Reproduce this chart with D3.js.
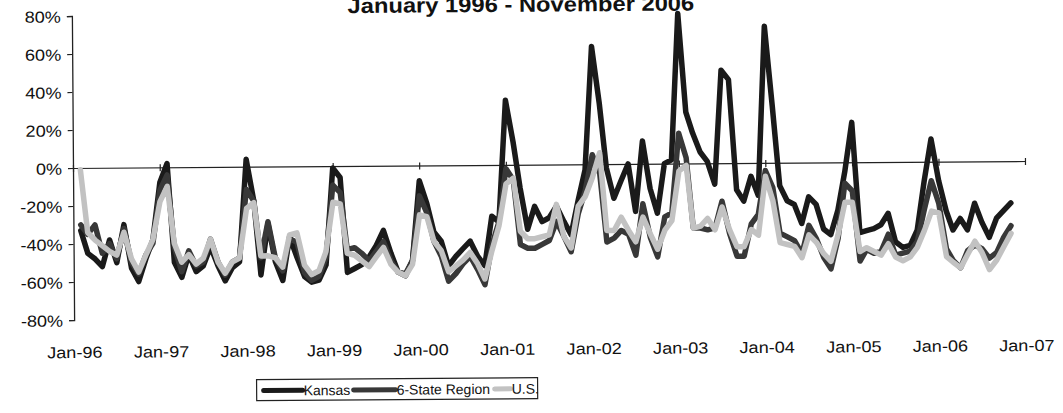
<!DOCTYPE html>
<html>
<head>
<meta charset="utf-8">
<script src="https://cdn.jsdelivr.net/npm/d3@7"></script>
<style>
  body { margin: 0; background: #fff; }
  svg { display: block; }
  text { font-family: "Liberation Sans", Arial, Helvetica, sans-serif; fill: #111; }
</style>
</head>
<body>
<svg id="chart" width="1063" height="413"></svg>
<script>
// Monthly percent change, Feb 1996 .. Nov 2006
const titleText = "January 1996 - November 2006";
const firstMonth = new Date(1996, 1, 1);

const kansas = [
  -33,-45,-48,-52,-38,-50,-30,-53,-60,-48,-38,
  -8,2,-50,-58,-46,-55,-52,-42,-52,-60,-53,-50,
  4,-18,-57,-30,-50,-60,-37,-48,-58,-61,-60,-52,
  -1,-6,-56,-54,-52,-48,-42,-34,-46,-56,-58,-50,
  -8,-20,-35,-40,-53,-48,-44,-40,-48,-53,-27,-30,
  34,12,-12,-34,-22,-30,-28,-22,-30,-37,-19,-3,
  62,32,-2,-18,-9,0,-25,12,-13,-26,0,2,
  79,27,16,6,1,-11,49,44,-14,-20,-7,-17,
  72,30,-12,-20,-22,-32,-18,-22,-35,-38,-25,-5,
  21,-37,-36,-35,-33,-27,-42,-45,-44,-36,-10,12,
  -10,-26,-36,-30,-36,-22,-32,-40,-30,-26,-22
];
const sixState = [
  -30,-35,-30,-45,-40,-48,-32,-50,-56,-46,-40,
  -12,-4,-42,-55,-44,-52,-50,-38,-50,-57,-50,-48,
  -12,-18,-48,-29,-48,-55,-38,-40,-56,-60,-58,-48,
  -10,-14,-44,-43,-46,-50,-45,-40,-50,-56,-57,-50,
  -16,-25,-40,-48,-61,-57,-52,-48,-55,-63,-42,-30,
  -2,-8,-42,-44,-44,-42,-40,-30,-38,-46,-26,-14,
  5,-5,-41,-39,-35,-37,-48,-21,-39,-49,-28,-26,
  16,3,-34,-34,-35,-34,-20,-37,-49,-49,-32,-27,
  -4,-13,-37,-39,-41,-48,-33,-40,-50,-56,-40,-11,
  -15,-52,-46,-48,-47,-38,-49,-48,-47,-42,-25,-10,
  -22,-46,-52,-56,-47,-44,-46,-51,-48,-40,-34
];
const us = [
  -1,-34,-38,-41,-44,-46,-34,-48,-55,-46,-38,
  -18,-10,-40,-50,-46,-51,-48,-38,-50,-56,-50,-48,
  -22,-19,-47,-47,-48,-53,-36,-35,-52,-57,-55,-45,
  -19,-20,-46,-47,-50,-53,-48,-43,-52,-56,-58,-52,
  -26,-27,-40,-45,-56,-53,-50,-46,-52,-60,-45,-32,
  -10,-7,-35,-39,-39,-38,-37,-21,-38,-44,-22,-17,
  -7,6,-35,-35,-28,-35,-41,-28,-37,-45,-35,-30,
  -4,-1,-34,-33,-29,-35,-23,-35,-44,-44,-35,-38,
  -7,-20,-42,-43,-44,-50,-38,-42,-48,-52,-38,-21,
  -21,-47,-45,-47,-49,-43,-50,-52,-50,-45,-36,-26,
  -27,-50,-53,-56,-49,-42,-48,-57,-52,-45,-38
];

const seriesNames = ["Kansas", "6-State Region", "U.S."];
const seriesColors = ["#1a1a1a", "#383838", "#c2c2c2"];
const yTickValues = [-80, -60, -40, -20, 0, 20, 40, 60, 80];
const xTickYears = d3.range(1996, 2008);

const svg = d3.select("#chart");
const plotLeft = 73, plotRight = 1025, plotTop = 16, plotBottom = 320;
const stretch = 1.13;

const x = d3.scaleTime()
  .domain([new Date(1996, 0, 1), new Date(2007, 0, 1)])
  .range([plotLeft, plotRight]);
const y = d3.scaleLinear().domain([-80, 80]).range([plotBottom, plotTop]);

// whole page is drawn on a very slight tilt
const g = svg.append("g").attr("transform", `rotate(-0.42, ${plotLeft}, ${y(0)})`);

// title
g.append("text")
  .attr("transform", `translate(522, 15) scale(${stretch},1)`)
  .attr("text-anchor", "middle")
  .style("font-size", "21px")
  .style("font-weight", "bold")
  .text(titleText);

// y axis
const yAxis = d3.axisLeft(y)
  .tickValues(yTickValues)
  .tickSize(5)
  .tickFormat(d => d + "%");
const yg = g.append("g").attr("transform", `translate(${plotLeft},0)`).call(yAxis);
yg.select(".domain").attr("stroke", "#222").attr("stroke-width", 1.3);
yg.selectAll(".tick line").attr("stroke", "#222").attr("stroke-width", 1.2);
yg.selectAll(".tick text")
  .attr("x", null).attr("dy", null)
  .attr("text-anchor", "end")
  .attr("transform", `translate(-11,6) scale(${stretch},1)`)
  .style("font-size", "16px")
  .style("fill", "#111");

// x axis along the zero line, labels below the plot
const xAxis = d3.axisBottom(x)
  .tickValues(xTickYears.map(yr => new Date(yr, 0, 1)))
  .tickSize(0)
  .tickFormat(d3.timeFormat("%b-%y"));
const xg = g.append("g").attr("transform", `translate(0,${y(0)})`).call(xAxis);
xg.select(".domain").attr("stroke", "#222").attr("stroke-width", 1.2);
xg.selectAll(".tick").append("line")
  .attr("y1", -3).attr("y2", 4)
  .attr("stroke", "#222").attr("stroke-width", 1.2);
xg.selectAll(".tick text")
  .attr("y", null).attr("dy", null)
  .attr("transform", `translate(0,${358 - y(0)}) scale(${stretch},1)`)
  .style("font-size", "16px")
  .style("fill", "#111");

// series lines
const months = kansas.map((_, i) => d3.timeMonth.offset(firstMonth, i));
const line = d3.line()
  .x((d, i) => x(months[i]))
  .y(d => y(d));

[kansas, sixState, us].forEach((values, k) => {
  g.append("path")
    .datum(values)
    .attr("fill", "none")
    .attr("stroke", seriesColors[k])
    .attr("stroke-width", 5.5)
    .attr("stroke-linejoin", "round")
    .attr("stroke-linecap", "round")
    .attr("d", line);
});

// legend
const lg = g.append("g").attr("transform", "translate(255,381)");
lg.append("rect")
  .attr("width", 281).attr("height", 21)
  .attr("fill", "#fff").attr("stroke", "#222").attr("stroke-width", 1.2);
const legendItems = [
  { x0: 7, len: 39 },
  { x0: 97, len: 42 },
  { x0: 238, len: 16 }
];
seriesNames.forEach((name, k) => {
  const it = legendItems[k];
  lg.append("line")
    .attr("x1", it.x0).attr("x2", it.x0 + it.len)
    .attr("y1", 11).attr("y2", 11)
    .attr("stroke", seriesColors[k]).attr("stroke-width", 5)
    .attr("stroke-linecap", "round");
  lg.append("text")
    .attr("x", it.x0 + it.len + 1).attr("y", 16)
    .style("font-size", "14px")
    .text(name);
});
</script>
</body>
</html>
